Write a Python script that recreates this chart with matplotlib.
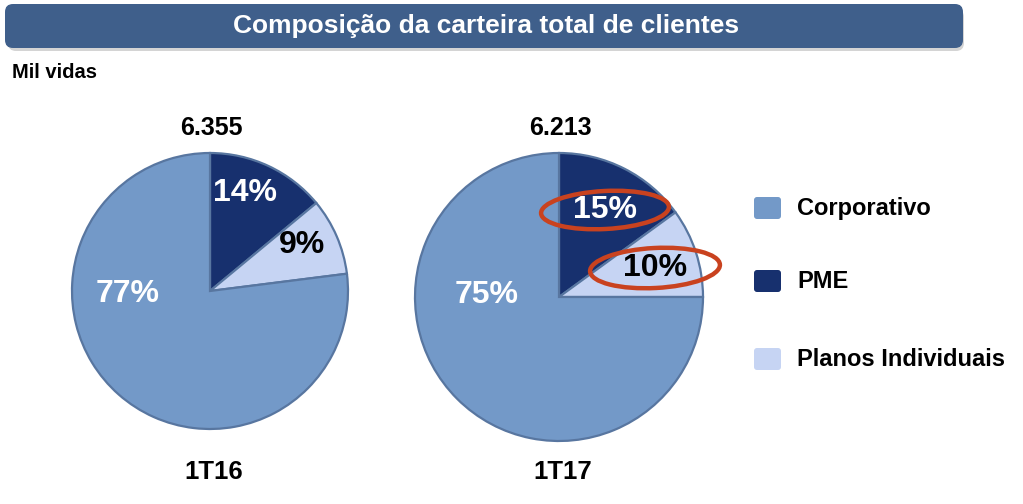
import matplotlib
matplotlib.use("Agg")
import matplotlib.pyplot as plt
from matplotlib.patches import FancyBboxPatch, Ellipse

# ---- data ----
categories = ["Corporativo", "PME", "Planos Individuais"]
periods = ["1T16", "1T17"]
totals = ["6.355", "6.213"]
shares_1t16 = [77, 14, 9]
shares_1t17 = [75, 15, 10]
colors = ["#7399c8", "#17306e", "#c6d4f3"]
label_colors = ["white", "white", "black"]

W, H = 1023, 504
fig = plt.figure(figsize=(W / 100, H / 100), dpi=100)
ax = fig.add_axes([0, 0, 1, 1])

def Y(py):
    return H - py

BOLD = ["Liberation Sans", "DejaVu Sans"]

# Title banner
shadow = FancyBboxPatch((8, Y(51)), 956, 42, boxstyle="round,pad=0,rounding_size=8",
                        fc="#b8b8b8", ec="none", alpha=0.6)
ax.add_patch(shadow)
banner = FancyBboxPatch((5, Y(48)), 958, 44, boxstyle="round,pad=0,rounding_size=8",
                        fc="#3f5f8b", ec="none")
ax.add_patch(banner)
ax.text(486, Y(26), "Composição da carteira total de clientes", color="white",
        fontsize=19, fontweight="bold", family=BOLD, ha="center", va="center")
ax.text(12, Y(72), "Mil vidas", fontsize=14.5, fontweight="bold", family=BOLD,
        ha="left", va="center", color="black")

pies = [
    dict(vals=shares_1t16, center=(210, Y(291)), r=138,
         lab_pos=[(128, 294), (245, 193), (302, 245)]),
    dict(vals=shares_1t17, center=(559, Y(297)), r=144,
         lab_pos=[(487, 295), (605, 210), (655, 268)]),
]

for i, p in enumerate(pies):
    vals = p["vals"]
    # order clockwise from 12 o'clock: PME, Planos, Corporativo
    order = [1, 2, 0]
    ax.pie([vals[k] for k in order], colors=[colors[k] for k in order],
           startangle=90, counterclock=False, center=p["center"],
           radius=p["r"], frame=True,
           wedgeprops=dict(edgecolor="#5876a0", linewidth=1.6))
    for k, (lx, ly) in zip(range(3), p["lab_pos"]):
        ax.text(lx, Y(ly), f"{vals[k]}%", color=label_colors[k], fontsize=23,
                fontweight="bold", family=BOLD, ha="center", va="center")
    cx = p["center"][0]
    ax.text(cx + 1, Y(128), totals[i], fontsize=18, fontweight="bold", family=BOLD,
            ha="center", va="center", color="black")
    ax.text(cx + 4, Y(472), periods[i], fontsize=18.5, fontweight="bold", family=BOLD,
            ha="center", va="center", color="black")

ax.set_xlim(0, W)
ax.set_ylim(0, H)
ax.set_aspect("equal")
ax.axis("off")

# highlight ellipses
for (ex, ey, ew, eh, ang) in [(605, 210, 128, 38, 3), (655, 268, 130, 40, 3)]:
    ax.add_patch(Ellipse((ex, Y(ey)), ew, eh, angle=ang, fill=False,
                         ec="#c9421f", lw=3.2))

# legend
leg_y = [208, 281, 359]
for k, ly in enumerate(leg_y):
    ax.add_patch(FancyBboxPatch((754, Y(ly) - 11), 27, 22,
                                boxstyle="round,pad=0,rounding_size=3",
                                fc=colors[k], ec="none"))
    ax.text(797, Y(ly), categories[k], fontsize=17, fontweight="bold", family=BOLD,
            ha="left", va="center", color="black")

fig.savefig("out.png", dpi=100)
